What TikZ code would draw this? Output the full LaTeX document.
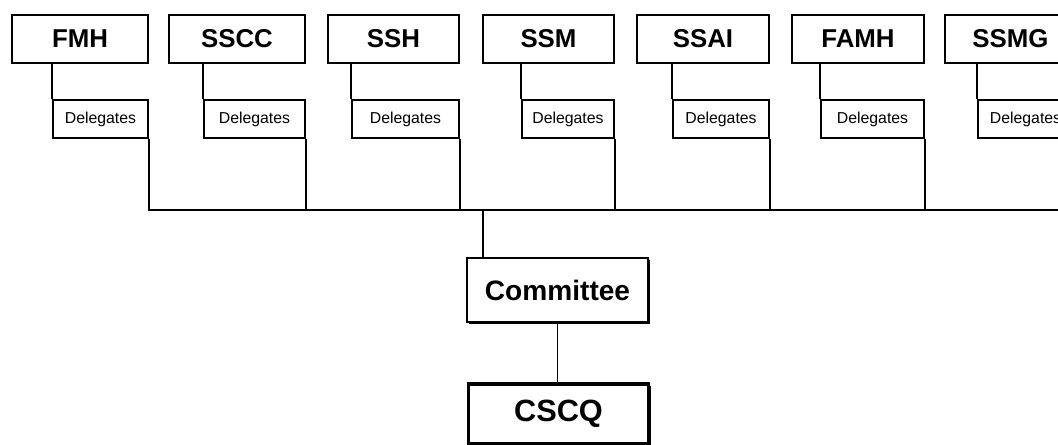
\documentclass[tikz,border=0pt]{standalone}
\usepackage{fontspec}
\setmainfont{Liberation Sans}
\usetikzlibrary{shadows}

\begin{document}
\begin{tikzpicture}[x=0.02cm, y=-0.02cm, line width=1.1pt]

\tikzstyle{every node} = [rectangle, draw, fill=white, inner sep=0pt]
\tikzstyle{unit} = [minimum height=0.96cm, font=\fontsize{14.7}{16}\selectfont\bfseries]
\tikzstyle{deleg} = [minimum height=0.76cm, font=\fontsize{9}{10}\selectfont]
\tikzstyle{shade} = [drop shadow={shadow xshift=0.045cm, shadow yshift=-0.045cm, opacity=1, fill=black}]

\useasboundingbox (0,0) rectangle (1058,445);

\node[unit, minimum width=2.72cm] (fmh) at (80,39) {FMH};
\node[unit, minimum width=2.72cm] (sscc) at (237,39) {SSCC};
\node[unit, minimum width=2.62cm] (ssh) at (393.5,39) {SSH};
\node[unit, minimum width=2.62cm] (ssm) at (548.5,39) {SSM};
\node[unit, minimum width=2.64cm] (ssai) at (703,39) {SSAI};
\node[unit, minimum width=2.64cm] (famh) at (858,39) {FAMH};
\node[unit, minimum width=2.62cm] (ssmg) at (1010.5,39) {SSMG};

\node[deleg, minimum width=1.90cm] (fmhd) at (100.5,119) {Delegates};
\node[deleg, minimum width=2.02cm] (ssccd) at (254.5,119) {Delegates};
\node[deleg, minimum width=2.14cm] (sshd) at (405.5,119) {Delegates};
\node[deleg, minimum width=1.84cm] (ssmd) at (568,119) {Delegates};
\node[deleg, minimum width=1.92cm] (ssaid) at (721,119) {Delegates};
\node[deleg, minimum width=2.06cm] (famhd) at (872.5,119) {Delegates};
\node[deleg, minimum width=1.90cm] (ssmgd) at (1025.5,119) {Delegates};

\node[shade, minimum width=3.62cm, minimum height=1.28cm,
      font=\fontsize{16}{18}\selectfont\bfseries] (comm) at (557.5,290) {Committee};
\node[shade, line width=2.2pt, minimum width=3.6cm, minimum height=1.2cm,
      font=\fontsize{17.5}{19}\selectfont\bfseries] (cscq) at (558.5,414) {CSCQ};

\coordinate (busend) at (1070,210);
\coordinate (tap) at (483,210);

\draw[-] (fmh.south -| fmhd.west) -- (fmhd.north west);
\draw[-] (sscc.south -| ssccd.west) -- (ssccd.north west);
\draw[-] (ssh.south -| sshd.west) -- (sshd.north west);
\draw[-] (ssm.south -| ssmd.west) -- (ssmd.north west);
\draw[-] (ssai.south -| ssaid.west) -- (ssaid.north west);
\draw[-] (famh.south -| famhd.west) -- (famhd.north west);
\draw[-] (ssmg.south -| ssmgd.west) -- (ssmgd.north west);

\draw[-] (fmhd.south east) |- (busend);
\draw[-] (ssccd.south east) -- (ssccd.south east |- busend);
\draw[-] (sshd.south east) -- (sshd.south east |- busend);
\draw[-] (ssmd.south east) -- (ssmd.south east |- busend);
\draw[-] (ssaid.south east) -- (ssaid.south east |- busend);
\draw[-] (famhd.south east) -- (famhd.south east |- busend);

\draw[-] (tap) -- (tap |- comm.north);
\draw[-] (comm.south) -- (comm.south |- cscq.north);

\end{tikzpicture}
\end{document}
